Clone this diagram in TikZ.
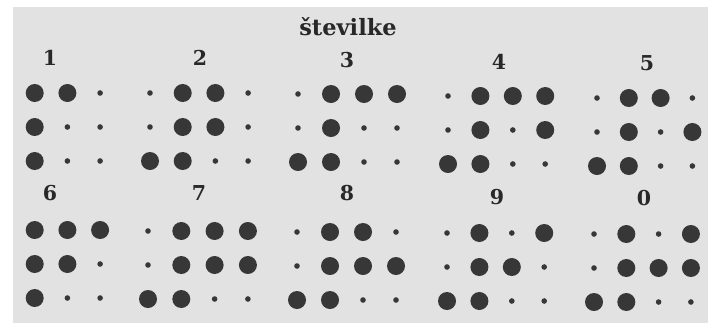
\documentclass[tikz,border=0pt]{standalone}
\usepackage{fontspec}
\newfontfamily\digfont{DejaVu Serif}
\definecolor{paper}{RGB}{226,226,226}
\definecolor{ink}{RGB}{55,55,55}
\definecolor{textink}{RGB}{40,40,40}
\tikzset{
  bigdot/.style={circle,fill=ink,inner sep=0pt,minimum size=18pt},
  smalldot/.style={circle,fill=ink,inner sep=0pt,minimum size=5.6pt},
  lbl/.style={font=\digfont\bfseries\fontsize{20.5}{22}\selectfont,text=textink,inner sep=0pt},
}
\begin{document}
\begin{tikzpicture}[x=1pt,y=-1pt]
\useasboundingbox (0,0) rectangle (708,325);
\fill[white] (0,0) rectangle (708,325);
\fill[paper] (13,7) rectangle (708,323);
\node[lbl,font=\digfont\bfseries\fontsize{22.5}{25}\selectfont] (title) at (348,27) {številke};
% labels
\foreach \t/\x/\y in {1/50/58,2/200/58,3/347/60,4/499/62,5/647/63,
                      6/50/193,7/199/193,8/347/193,9/497/197,0/644/198}
  \node[lbl] (L\t) at (\x,\y) {\t};
% digits: name / x of col1 / y of row1 / dx / pattern (n = none, B = big, s = small)
\foreach \d/\x/\y/\dx/\p in {
  1/2/93/32.7/{n,B,B,s,n,B,s,s,n,B,s,s},
  2/150/93/32.7/{s,B,B,s,s,B,B,s,B,B,s,s},
  3/298/94/33/{s,B,B,B,s,B,s,s,B,B,s,s},
  4/448/96/32.4/{s,B,B,B,s,B,s,B,B,B,s,s},
  5/597/98/31.8/{s,B,B,s,s,B,s,B,B,B,s,s},
  6/2/230/32.7/{n,B,B,B,n,B,B,s,n,B,s,s},
  7/148/231/33.3/{s,B,B,B,s,B,B,B,B,B,s,s},
  8/297/232/33/{s,B,B,s,s,B,B,B,B,B,s,s},
  9/447/233/32.4/{s,B,s,B,s,B,B,s,B,B,s,s},
  0/594/234/32.3/{s,B,s,B,s,B,B,B,B,B,s,s}}
{
  \foreach \v [count=\i from 0] in \p {
    \pgfmathtruncatemacro{\c}{mod(\i,4)}
    \pgfmathtruncatemacro{\r}{int(\i/4)}
    \pgfmathsetmacro{\px}{\x+\dx*\c}
    \pgfmathsetmacro{\py}{\y+34*\r}
    \if\v B \node[bigdot] (D\d-\i) at (\px,\py) {};\fi
    \if\v s \node[smalldot] (D\d-\i) at (\px,\py) {};\fi
  }
}
\end{tikzpicture}
\end{document}
